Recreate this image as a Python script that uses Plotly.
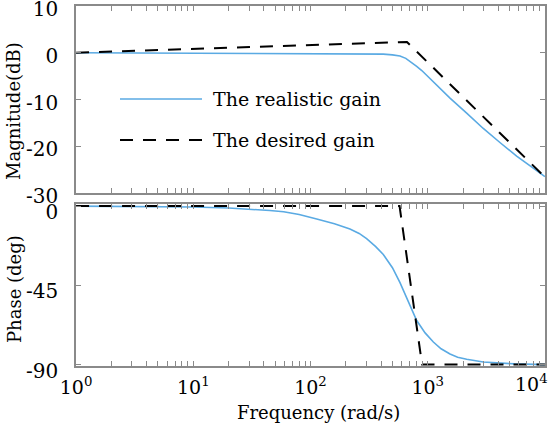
import plotly.graph_objects as go
from plotly.subplots import make_subplots

# ---- data ----
freq_real_mag = [1, 10, 100, 217, 418, 500, 580, 650, 706, 805, 890, 979, 1192, 1549, 2149, 2978, 4130, 5737, 7950, 10000]
mag_real = [0, -0.1, -0.2, -0.2, -0.3, -0.45, -0.7, -1.2, -1.8, -2.9, -3.8, -4.8, -6.9, -9.7, -12.9, -16.2, -19.2, -22.1, -24.7, -26.5]

freq_des_mag = [1, 665, 10000]
mag_des = [0, 2.3, -26.6]

freq_real_ph = [1, 4.3, 10, 20, 30, 45, 59, 80, 113, 160, 217, 260, 301, 360, 418, 500, 580, 690, 805, 950, 1117, 1300, 1549, 1800, 2149, 2978, 4000, 5500, 10000]
ph_real = [0, -0.2, -0.5, -1.1, -1.7, -2.5, -3.2, -4.8, -7.3, -10, -13, -15.5, -18.5, -23, -27.5, -35, -43.5, -55, -65, -72, -77.2, -81, -84, -85.8, -87, -88.5, -89.2, -89.6, -90]

freq_des_ph = [1, 575, 895, 10000]
ph_des = [0, 0, -90, -90]

mag_ticks = [10, 0, -10, -20, -30]
mag_tick_labels = ["10", "0", "-10", "-20", "-30"]
ph_ticks = [0, -45, -90]
ph_tick_labels = ["0", "-45", "-90"]
decades = [1, 10, 100, 1000, 10000]
decade_labels = ["10<sup>0</sup>", "10<sup>1</sup>", "10<sup>2</sup>", "10<sup>3</sup>", "10<sup>4</sup>"]

legend_names = ["The realistic gain", "The desired gain"]

BLUE = "#5aaae3"
GRAY = "#8a8a8a"
FONT = "DejaVu Serif"

# log tick positions (majors + minors); the last decade label is placed as an
# annotation so it stays inside the page, like the reference
tickvals = []
ticktext = []
for i, d in enumerate(decades[:-1]):
    for m in range(1, 10):
        tickvals.append(d * m)
        ticktext.append(decade_labels[i] if m == 1 else "")
tickvals.append(decades[-1])
ticktext.append("")

fig = make_subplots(rows=2, cols=1, shared_xaxes=False, vertical_spacing=0.03)

fig.add_trace(go.Scatter(x=freq_real_mag, y=mag_real, mode="lines", line=dict(color=BLUE, width=1.6),
                         name=legend_names[0], showlegend=False), row=1, col=1)
fig.add_trace(go.Scatter(x=freq_des_mag, y=mag_des, mode="lines", line=dict(color="black", width=2, dash="13px,10px"),
                         name=legend_names[1], showlegend=False), row=1, col=1)
fig.add_trace(go.Scatter(x=freq_real_ph, y=ph_real, mode="lines", line=dict(color=BLUE, width=1.6),
                         showlegend=False), row=2, col=1)
fig.add_trace(go.Scatter(x=freq_des_ph, y=ph_des, mode="lines", line=dict(color="black", width=2, dash="13px,10px"),
                         showlegend=False), row=2, col=1)

W, H = 550, 425
L, R, T, B = 76, 5, 6, 59
ph = H - T - B
pw = W - L - R

def py(y):
    return (H - B - y) / ph

def px(x):
    return (x - L) / pw

axis_common = dict(showline=True, linecolor=GRAY, linewidth=1.5, mirror="ticks", ticks="inside",
                   tickcolor=GRAY, ticklen=5, tickwidth=1, showgrid=False, zeroline=False, automargin=False,
                   ticklabeloverflow="allow", tickfont=dict(family=FONT, size=20, color="black"))

fig.update_xaxes(type="log", range=[-0.0005, 4.0005], tickvals=tickvals, ticktext=ticktext, **axis_common)
fig.update_xaxes(showticklabels=False, row=1, col=1)
fig.update_xaxes(ticklabelstandoff=3, tickfont=dict(family=FONT, size=19, color="black"), row=2, col=1)
fig.update_yaxes(range=[-30, 10], tickvals=mag_ticks, ticktext=mag_tick_labels, ticklabelstandoff=12,
                 ticklabelshift=3, **axis_common, row=1, col=1)
fig.update_yaxes(range=[-90.8, 1.2], tickvals=ph_ticks, ticktext=ph_tick_labels, ticklabelstandoff=12,
                 ticklabelshift=6, **axis_common, row=2, col=1)

fig.update_layout(
    xaxis=dict(domain=[0, 1]),
    yaxis=dict(domain=[py(193), 1]),
    xaxis2=dict(domain=[0, 1]),
    yaxis2=dict(domain=[0, py(204)]),
)

# last decade label, right-aligned at the axis end
fig.add_annotation(x=4, y=0, xref="x2", yref="paper", text=decade_labels[-1], showarrow=False,
                   xanchor="right", yanchor="top", xshift=5, yshift=-3,
                   font=dict(family=FONT, size=19, color="black"))

# legend drawn inside the top panel
fig.add_shape(type="line", xref="paper", yref="paper", x0=px(120), x1=px(202), y0=py(99), y1=py(99),
              line=dict(color=BLUE, width=1.6))
fig.add_shape(type="line", xref="paper", yref="paper", x0=px(120), x1=px(202), y0=py(140), y1=py(140),
              line=dict(color="black", width=2, dash="13px,10px"))
fig.add_annotation(x=px(211), y=py(99), xref="paper", yref="paper", text=legend_names[0], showarrow=False,
                   xanchor="left", yanchor="middle", font=dict(family=FONT, size=19, color="black"))
fig.add_annotation(x=px(211), y=py(140), xref="paper", yref="paper", text=legend_names[1], showarrow=False,
                   xanchor="left", yanchor="middle", font=dict(family=FONT, size=19, color="black"))

# axis titles
fig.add_annotation(x=px(14), y=py(111), xref="paper", yref="paper", text="Magnitude(dB)", showarrow=False,
                   textangle=-90, xanchor="center", yanchor="middle", font=dict(family=FONT, size=18, color="black"))
fig.add_annotation(x=px(14), y=py(289), xref="paper", yref="paper", text="Phase (deg)", showarrow=False,
                   textangle=-90, xanchor="center", yanchor="middle", font=dict(family=FONT, size=18, color="black"))
fig.add_annotation(x=px(318), y=py(412), xref="paper", yref="paper", text="Frequency (rad/s)", showarrow=False,
                   xanchor="center", yanchor="middle", font=dict(family=FONT, size=18, color="black"))

fig.update_layout(width=W, height=H, margin=dict(l=L, r=R, t=T, b=B, pad=0),
                  paper_bgcolor="white", plot_bgcolor="white", showlegend=False)

fig.write_html("out.html")
